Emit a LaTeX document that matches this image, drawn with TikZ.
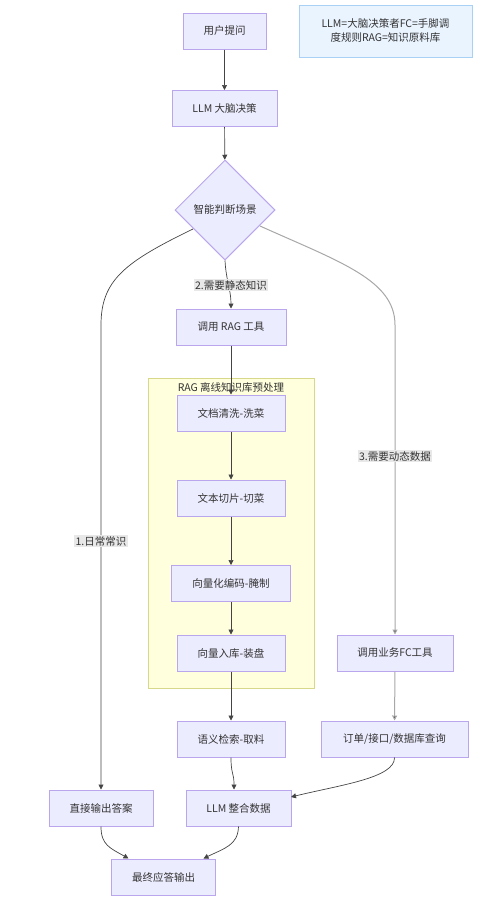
\documentclass[tikz,border=0pt]{standalone}
\usepackage{fontspec}
\setmainfont{Noto Sans CJK SC}
\usetikzlibrary{shapes.geometric,arrows.meta}
\definecolor{mmfill}{HTML}{ECECFF}
\definecolor{mmborder}{HTML}{B9A6EC}
\definecolor{mmtext}{HTML}{333333}
\definecolor{mmline}{HTML}{444444}
\definecolor{mmlight}{HTML}{A8A8A8}
\definecolor{mmlbl}{HTML}{E8E8E8}
\definecolor{clfill}{HTML}{FFFFDE}
\definecolor{clborder}{HTML}{D8D88A}
\definecolor{notefill}{HTML}{EAF4FF}
\definecolor{noteborder}{HTML}{A9D0F5}
\begin{document}
\begin{tikzpicture}[x=1pt,y=-1pt,font=\fontsize{10.5}{14}\selectfont,
  box/.style={draw=mmborder,fill=mmfill,line width=1pt,minimum height=36pt,inner sep=0pt,text=mmtext},
  edge/.style={draw=mmline,line width=0.7pt,-{Triangle[length=5pt,width=5pt]}},
  edgel/.style={draw=mmlight,line width=1pt,-{Triangle[length=5pt,width=5pt,fill=mmline]}},
  lbl/.style={fill=mmlbl,inner sep=1.5pt,text=mmtext}]
\useasboundingbox (0,0) rectangle (490,902);
% cluster
\node[draw=clborder,fill=clfill,line width=0.8pt,minimum width=166pt,minimum height=310pt,inner sep=0pt] (cl) at (231,533) {};
\node[text=mmtext,inner sep=0pt] (cltitle) at (231,387) {RAG 离线知识库预处理};
% note
\node[draw=noteborder,fill=notefill,line width=1pt,minimum width=173pt,minimum height=52pt,align=center,text=mmtext,inner sep=0pt] (note) at (385.5,31) {LLM=大脑决策者FC=手脚调\\度规则RAG=知识原料库};
% nodes
\node[box,minimum width=83pt] (q) at (224.5,31) {用户提问};
\node[box,minimum width=105pt] (llm) at (224.5,108.5) {LLM 大脑决策};
\node[diamond,draw=mmborder,fill=mmfill,line width=1pt,minimum width=100pt,minimum height=100pt,inner sep=0pt,text=mmtext] (dia) at (225,210) {智能判断场景};
\node[box,minimum width=110pt] (rag) at (231,327) {调用 RAG 工具};
\node[box,minimum width=108pt] (clean) at (231,413) {文档清洗-洗菜};
\node[box,minimum width=108pt] (cut) at (231,498) {文本切片-切菜};
\node[box,minimum width=119pt] (enc) at (231,583.5) {向量化编码-腌制};
\node[box,minimum width=108pt] (store) at (231,653) {向量入库-装盘};
\node[box,minimum width=116pt] (fc) at (395,653) {调用业务FC工具};
\node[box,minimum width=108pt] (sem) at (231,739) {语义检索-取料};
\node[box,minimum width=147pt] (db) at (394.5,739) {订单/接口/数据库查询};
\node[box,minimum width=104pt] (direct) at (101,808) {直接输出答案};
\node[box,minimum width=105pt] (llm2) at (238.5,808) {LLM 整合数据};
\node[box,minimum width=104pt] (final) at (163.5,877) {最终应答输出};
% coordinates
\coordinate (dl) at (193,229);
\coordinate (dr) at (260,226);
\coordinate (llm2in) at (291,797);
% edges
\draw[edge] (q) -- (llm);
\draw[edge] (llm) -- (dia);
\draw[edge] (dia.south) .. controls (226,280) and (231,290) .. (rag.north);
\node[lbl] (l2) at (231,285) {2.需要静态知识};
\draw[edge] (dl) .. controls (125,262) and (101,280) .. (101,325) -- (direct.north);
\node[lbl] (l1) at (101,541) {1.日常常识};
\draw[edgel] (dr) .. controls (340,262) and (395,280) .. (395,325) -- (fc.north);
\node[lbl] (l3) at (395,456) {3.需要动态数据};
\draw[edge] (rag) -- (clean);
\draw[edge] (clean) -- (cut);
\draw[edge] (cut) -- (enc);
\draw[edge] (enc) -- (store);
\draw[edge] (store) -- (sem);
\draw[edgel] (fc) -- (db);
\draw[edge] (sem.south) .. controls (231,775) and (234,772) .. ([xshift=-4.5pt]llm2.north);
\draw[edge] (db.south) .. controls (395,778) and (340,785) .. (llm2in);
\draw[edge] (direct.south) .. controls (101,845) and (110,848) .. ([xshift=-35pt]final.north);
\draw[edge] (llm2.south) .. controls (238,845) and (225,848) .. ([xshift=40pt]final.north);
\end{tikzpicture}
\end{document}
